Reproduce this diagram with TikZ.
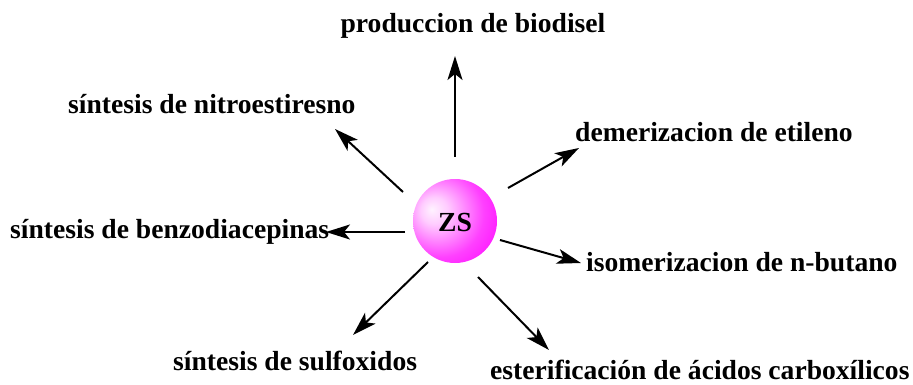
\documentclass[tikz,border=0pt]{standalone}
\usepackage{fontspec}
\setmainfont{Liberation Serif}
\usetikzlibrary{arrows.meta}
\pgfdeclareradialshading{zsball}{\pgfpoint{-14bp}{7bp}}{%
  color(0bp)=(magenta!5!white);
  color(8bp)=(magenta!20!white);
  color(26bp)=(magenta!75!white);
  color(42bp)=(magenta);
  color(58bp)=(magenta!90!black);
  color(70bp)=(magenta!85!black)}
\begin{document}
\begin{tikzpicture}[x=1pt,y=-1pt,
  lbl/.style={font=\bfseries\fontsize{27.6}{30}\selectfont, inner sep=0pt},
  arr/.style={line width=2pt, -{Stealth[length=24pt,width=15pt,inset=6pt]}}]
\useasboundingbox (0,0) rectangle (913,385);
\shade[shading=zsball] (455,221) circle (42);
\node[circle, minimum size=84pt, inner sep=0pt] (zs) at (455,221) {};
\node[font=\bfseries\fontsize{27.6}{30}\selectfont, anchor=base] at (455,231) {ZS};
\coordinate (s1) at (455,157); \coordinate (e1) at (455,56);
\coordinate (s2) at (508,188); \coordinate (e2) at (579,148);
\coordinate (s3) at (500,240); \coordinate (e3) at (581,263);
\coordinate (s4) at (478,277); \coordinate (e4) at (549,350);
\coordinate (s5) at (428,262); \coordinate (e5) at (353,335);
\coordinate (s6) at (405,232); \coordinate (e6) at (326,232);
\coordinate (s7) at (403,192); \coordinate (e7) at (335,129);
\node[lbl, anchor=base] (t1) at (473,33) {produccion de biodisel};
\node[lbl, anchor=base west] (t2) at (575,142) {demerizacion de etileno};
\node[lbl, anchor=base west] (t3) at (586,271) {isomerizacion de n-butano};
\node[lbl, anchor=base west] (t4) at (490,379) {esterificación de ácidos carboxílicos};
\node[lbl, anchor=base west] (t5) at (173,370) {síntesis de sulfoxidos};
\node[lbl, anchor=base west] (t6) at (10,238) {síntesis de benzodiacepinas};
\node[lbl, anchor=base west] (t7) at (68,114) {síntesis de nitroestiresno};
\foreach \i in {1,...,7} \draw[arr] (s\i) -- (e\i);
\end{tikzpicture}
\end{document}
